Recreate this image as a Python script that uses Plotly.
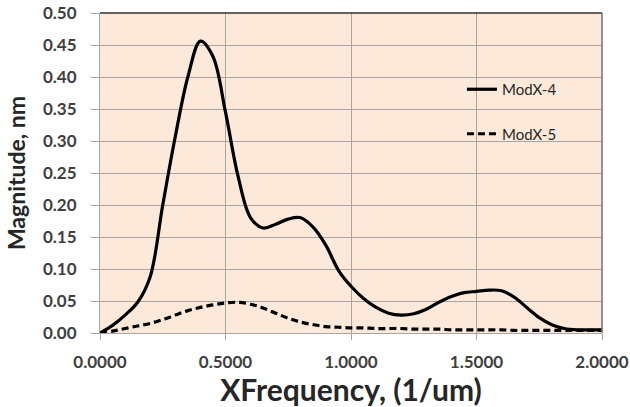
import plotly.graph_objects as go

# Spectral magnitude of the two models versus spatial frequency
freq = [0.0, 0.05, 0.1, 0.15, 0.2, 0.25, 0.3, 0.35, 0.4, 0.45,
        0.5, 0.55, 0.6, 0.65, 0.7, 0.75, 0.8, 0.85, 0.9, 0.95,
        1.0, 1.05, 1.1, 1.15, 1.2, 1.25, 1.3, 1.35, 1.4, 1.45,
        1.5, 1.55, 1.6, 1.65, 1.7, 1.75, 1.8, 1.85, 1.9, 1.95, 2.0]

mag_modx4 = [0.0, 0.012, 0.028, 0.048, 0.088, 0.200, 0.307, 0.400, 0.456, 0.432,
             0.345, 0.245, 0.180, 0.164, 0.170, 0.178, 0.180, 0.165, 0.137, 0.098,
             0.073, 0.054, 0.040, 0.031, 0.028, 0.030, 0.037, 0.048, 0.057, 0.063,
             0.065, 0.067, 0.066, 0.056, 0.040, 0.024, 0.013, 0.007, 0.005, 0.005, 0.005]

mag_modx5 = [0.0, 0.003, 0.007, 0.011, 0.015, 0.021, 0.028, 0.035, 0.040, 0.044,
             0.047, 0.048, 0.045, 0.039, 0.031, 0.023, 0.017, 0.013, 0.010, 0.009,
             0.008, 0.008, 0.007, 0.007, 0.007, 0.006, 0.006, 0.006, 0.005, 0.005,
             0.005, 0.005, 0.005, 0.004, 0.004, 0.004, 0.004, 0.004, 0.004, 0.004, 0.004]

series_names = ["ModX-4", "ModX-5"]

x_ticks = [0.0, 0.5, 1.0, 1.5, 2.0]
x_tick_labels = ["0.0000", "0.5000", "1.0000", "1.5000", "2.0000"]
y_ticks = [0.0, 0.05, 0.10, 0.15, 0.20, 0.25, 0.30, 0.35, 0.40, 0.45, 0.50]
y_tick_labels = ["0.00", "0.05", "0.10", "0.15", "0.20", "0.25",
                 "0.30", "0.35", "0.40", "0.45", "0.50"]

FONT = "Lato, 'Open Sans', sans-serif"
GRID = "#a6a6a6"

fig = go.Figure()
fig.add_trace(go.Scatter(
    x=freq, y=mag_modx4, name=series_names[0], mode="lines",
    line=dict(color="black", width=3.2, shape="spline", smoothing=1.0),
    legendgroup="a",
))
fig.add_trace(go.Scatter(
    x=freq, y=mag_modx5, name=series_names[1], mode="lines",
    line=dict(color="black", width=3.2, dash="7px,4px", shape="spline", smoothing=1.0),
    legendgroup="b",
))

fig.update_layout(
    width=630, height=407,
    margin=dict(l=100, r=28, t=13, b=74),
    paper_bgcolor="white",
    plot_bgcolor="#FDE9D9",
    font=dict(family=FONT, color="#404040"),
    showlegend=True,
    legend=dict(
        x=0.721, y=0.8125, xanchor="left", yanchor="top",
        bgcolor="rgba(0,0,0,0)", borderwidth=0,
        font=dict(family=FONT, size=15, color="#262626"),
        tracegroupgap=22, itemwidth=30,
    ),
    xaxis=dict(
        range=[0, 2], tickmode="array", tickvals=x_ticks, ticktext=x_tick_labels,
        showgrid=True, gridcolor=GRID, gridwidth=1,
        showline=True, linecolor=GRID, linewidth=1,
        ticks="outside", ticklen=6, tickcolor=GRID,
        tickfont=dict(family=FONT, size=17, color="#404040", weight="bold"),
        ticklabelstandoff=8,
        zeroline=False, automargin=False,
        title=dict(text="XFrequency, (1/um)", standoff=2,
                   font=dict(family=FONT, size=30, color="#262626", weight="bold")),
    ),
    yaxis=dict(
        range=[0, 0.5], tickmode="array", tickvals=y_ticks, ticktext=y_tick_labels,
        showgrid=True, gridcolor=GRID, gridwidth=1,
        showline=True, linecolor=GRID, linewidth=1,
        ticks="outside", ticklen=8, tickcolor=GRID,
        tickfont=dict(family=FONT, size=17, color="#404040", weight="bold"),
        ticklabelstandoff=11,
        zeroline=False, automargin=False,
        title=dict(text="Magnitude, nm", standoff=10,
                   font=dict(family=FONT, size=23, color="#262626", weight="bold")),
    ),
    shapes=[
        dict(type="line", xref="paper", yref="paper", x0=0, x1=1, y0=1, y1=1,
             line=dict(color="#303030", width=1.5)),
        dict(type="line", xref="paper", yref="paper", x0=1, x1=1, y0=0, y1=1,
             line=dict(color="#707070", width=1.5)),
    ],
)

fig.write_html("out.html")
